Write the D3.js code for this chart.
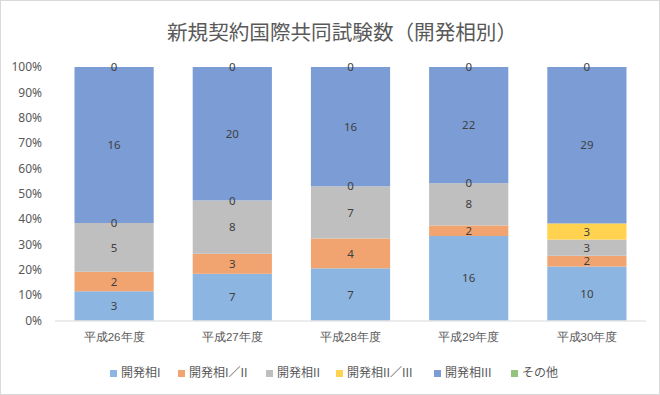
<!DOCTYPE html>
<html lang="ja">
<head>
<meta charset="utf-8">
<title>新規契約国際共同試験数</title>
<script src="https://cdn.jsdelivr.net/npm/d3@7"></script>
<style>
  body { margin: 0; background: #fff; }
  svg { display: block; font-family: "Noto Sans CJK JP", "Noto Sans", sans-serif; }
</style>
</head>
<body>
<script>
// 年度
var categories = ["平成26年度", "平成27年度", "平成28年度", "平成29年度", "平成30年度"];
// 系列
var seriesNames = ["開発相I", "開発相I／II", "開発相II", "開発相II／III", "開発相III", "その他"];
var phase1 = [3, 7, 7, 16, 10];
var phase12 = [2, 3, 4, 2, 2];
var phase2 = [5, 8, 7, 8, 3];
var phase23 = [0, 0, 0, 0, 3];
var phase3 = [16, 20, 16, 22, 29];
var other = [0, 0, 0, 0, 0];
var yTicks = [0, 0.1, 0.2, 0.3, 0.4, 0.5, 0.6, 0.7, 0.8, 0.9, 1];

var colors = ["#8cb6e1", "#f1a46f", "#bfbfbf", "#ffd24f", "#7b9cd5", "#93c47d"];
var values = [phase1, phase12, phase2, phase23, phase3, other];

var width = 660, height = 395;
var margin = { top: 67, right: 14, bottom: 73, left: 55 };

var table = categories.map(function (c, i) {
    var row = { cat: c };
    seriesNames.forEach(function (s, k) { row[s] = values[k][i]; });
    return row;
});

var stacked = d3.stack().keys(seriesNames).offset(d3.stackOffsetExpand)(table);

var svg = d3.select("body").append("svg")
    .attr("width", width)
    .attr("height", height);

svg.append("rect")
    .attr("x", 0.5).attr("y", 0.5)
    .attr("width", width - 1).attr("height", height - 1)
    .attr("fill", "#fff")
    .attr("stroke", "#d9d9d9");

var x = d3.scaleBand()
    .domain(categories)
    .range([margin.left, width - margin.right])
    .paddingInner(0.33)
    .paddingOuter(0.165);

var y = d3.scaleLinear()
    .domain([0, 1])
    .range([height - margin.bottom - 1.5, margin.top]);

// 題名
svg.append("text")
    .attr("x", width / 2 + 12)
    .attr("y", 40)
    .attr("text-anchor", "middle")
    .attr("fill", "#595959")
    .attr("font-size", 20.6)
    .text("新規契約国際共同試験数（開発相別）");

// y軸
var yAxis = svg.append("g")
    .attr("transform", `translate(${margin.left},0)`)
    .call(d3.axisLeft(y).tickValues(yTicks).tickFormat(d3.format(".0%")).tickSize(0).tickPadding(13));
yAxis.select(".domain").remove();
yAxis.selectAll("text")
    .attr("fill", "#595959")
    .attr("font-size", 12)
    .attr("font-family", "Noto Sans, sans-serif");

// 棒
var layer = svg.append("g")
    .selectAll("g")
    .data(stacked)
    .join("g")
    .attr("fill", (d, i) => colors[i]);

layer.selectAll("rect")
    .data(d => d)
    .join("rect")
    .attr("x", d => x(d.data.cat))
    .attr("y", d => y(d[1]))
    .attr("width", x.bandwidth())
    .attr("height", d => y(d[0]) - y(d[1]));

// x軸
var xAxis = svg.append("g")
    .attr("transform", `translate(0,${y(0) + 0.5})`)
    .call(d3.axisBottom(x).tickSize(0).tickPadding(12));
xAxis.select(".domain")
    .attr("stroke", "#d9d9d9")
    .attr("d", `M${margin.left},0H${width - margin.right}`);
xAxis.selectAll("text")
    .attr("fill", "#595959")
    .attr("font-size", 11.5);

// データラベル (棒の上に重ねる)
var labels = svg.append("g")
    .attr("text-anchor", "middle")
    .attr("fill", "#404040")
    .attr("font-size", 11.5)
    .attr("font-family", "Noto Sans, sans-serif");
stacked.forEach(function (s, k) {
    labels.append("g")
        .selectAll("text")
        .data(s)
        .join("text")
        .attr("x", d => x(d.data.cat) + x.bandwidth() / 2)
        .attr("y", d => (y(d[0]) + y(d[1])) / 2)
        .attr("dy", "0.36em")
        .text(d => d.data[seriesNames[k]]);
});

// 凡例
var legendItems = svg.append("g").attr("font-size", 12);
var lx = [110, 178, 266, 336, 434, 511];
seriesNames.forEach(function (s, i) {
    var g = legendItems.append("g").attr("transform", `translate(${lx[i]},373)`);
    g.append("rect").attr("x", 0).attr("y", -3).attr("width", 7).attr("height", 7).attr("fill", colors[i]);
    g.append("text").attr("x", 11).attr("dy", "0.36em").attr("fill", "#595959").text(s);
});
</script>
</body>
</html>
